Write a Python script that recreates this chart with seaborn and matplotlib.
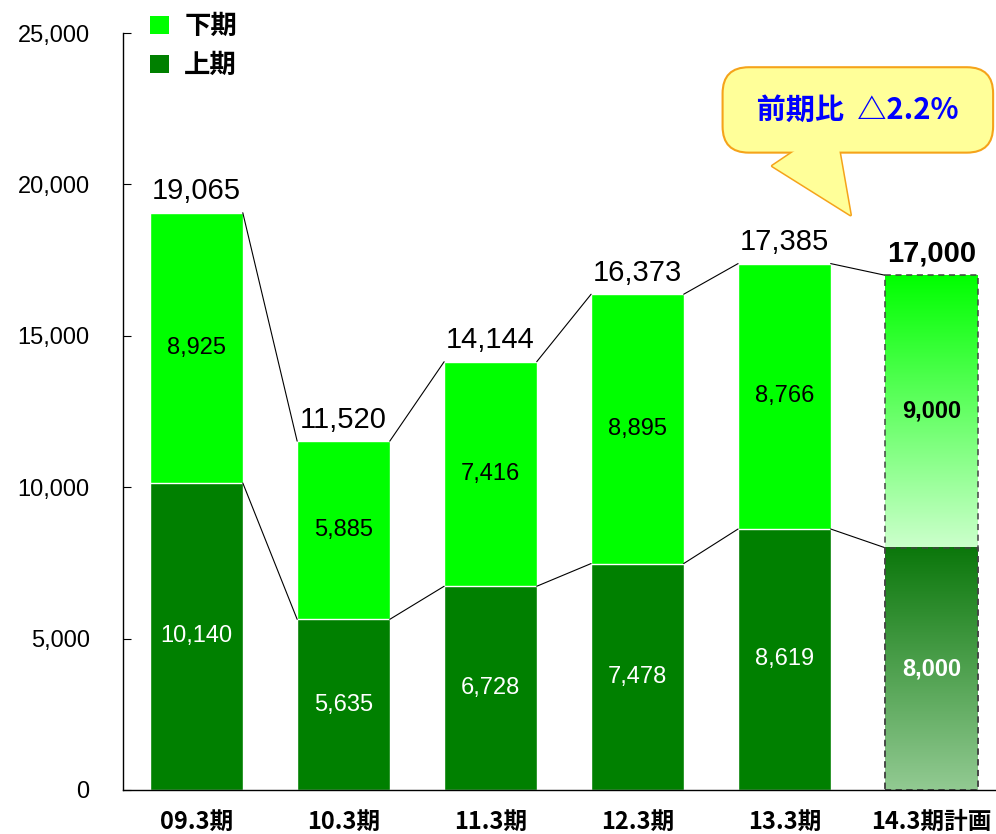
import numpy as np
import pandas as pd
import matplotlib
matplotlib.use('Agg')
import matplotlib.pyplot as plt
from matplotlib.patches import Patch
from matplotlib.colors import LinearSegmentedColormap
from matplotlib.ticker import FuncFormatter
import seaborn as sns

periods = ['09.3期', '10.3期', '11.3期', '12.3期', '13.3期', '14.3期計画']
lower = [10140, 5635, 6728, 7478, 8619, 8000]   # 上期
upper = [8925, 5885, 7416, 8895, 8766, 9000]    # 下期
totals = [19065, 11520, 14144, 16373, 17385, 17000]
callout_text = ' 前期比  △2.2% '

sns.set_style('white')
plt.rcParams['font.family'] = ['Liberation Sans', 'Noto Sans CJK JP', 'DejaVu Sans']
plt.rcParams['text.color'] = 'black'
plt.rcParams['xtick.color'] = 'black'
plt.rcParams['ytick.color'] = 'black'

df = pd.DataFrame({'period': periods, 'lower': lower, 'upper': upper, 'total': totals})

LIME = '#00FF00'
DARK = '#008000'
W = 0.63

fig = plt.figure(figsize=(9.96, 8.34), dpi=100)
ax = fig.add_axes([0.1235, 0.0528, 0.8765, 0.9076])

sns.barplot(data=df, x='period', y='total', color=LIME, saturation=1, width=W,
            edgecolor='white', linewidth=1, ax=ax)
sns.barplot(data=df, x='period', y='lower', color=DARK, saturation=1, width=W,
            edgecolor='white', linewidth=1, ax=ax)

# plan bar: gradient fills with dashed border
n = len(periods)
top_patch = ax.patches[n - 1]
low_patch = ax.patches[2 * n - 1]
cm_top = LinearSegmentedColormap.from_list('t', ['#CCFFCC', '#00FF00'])
cm_low = LinearSegmentedColormap.from_list('l', ['#92CA92', '#0B770B'])
for p, cm in [(top_patch, cm_top), (low_patch, cm_low)]:
    x0, y0, w, h = p.get_x(), p.get_y(), p.get_width(), p.get_height()
    if p is top_patch:
        y0, h = lower[-1], upper[-1]
    grad = np.linspace(0, 1, 256).reshape(-1, 1)
    ax.imshow(grad, extent=[x0, x0 + w, y0, y0 + h], origin='lower', aspect='auto',
              cmap=cm, zorder=p.get_zorder() + 0.1)
    p.set_facecolor('none')
    p.set_edgecolor('#444444')
    p.set_linestyle((0, (4, 3)))
    p.set_linewidth(1.1)
    p.set_zorder(p.get_zorder() + 0.2)

# connector lines between bars
for i in range(n - 1):
    for vals in (totals, lower):
        ax.plot([i + W / 2, i + 1 - W / 2], [vals[i], vals[i + 1]],
                color='black', lw=0.8, zorder=1)

# labels
for i in range(n):
    last = i == n - 1
    ax.text(i, totals[i] + 250, f'{totals[i]:,}', ha='center', va='bottom',
            fontsize=21, fontweight='bold' if last else 'normal', zorder=5)
    ax.text(i, lower[i] + upper[i] / 2, f'{upper[i]:,}', ha='center', va='center',
            fontsize=17, color='black', fontweight='bold' if last else 'normal', zorder=5)
    ax.text(i, lower[i] / 2, f'{lower[i]:,}', ha='center', va='center',
            fontsize=17, color='white', fontweight='bold' if last else 'normal', zorder=5)

ax.set_xlim(-0.5, n - 0.56)
ax.set_ylim(0, 25000)
ax.set_yticks(range(0, 25001, 5000))
ax.yaxis.set_major_formatter(FuncFormatter(lambda v, _: f'{int(v):,}'))
ax.set_xlabel('')
ax.set_ylabel('')
ax.set_xticks(range(n))
ax.set_xticks([i + 0.5 for i in range(n - 1)], minor=True)
ax.set_xticklabels(periods, fontsize=17, fontweight='bold',
                   family=['Noto Sans CJK JP', 'DejaVu Sans'])
ax.tick_params(axis='x', which='major', length=0, pad=14)
ax.tick_params(axis='x', which='minor', direction='in', length=6, width=0.8)
ax.tick_params(axis='y', direction='in', length=6, width=0.8, labelsize=17, pad=24, left=True)
for s in ['top', 'right']:
    ax.spines[s].set_visible(False)
for s in ['left', 'bottom']:
    ax.spines[s].set_color('black')
    ax.spines[s].set_linewidth(1)

handles = [Patch(facecolor=LIME, edgecolor='none'), Patch(facecolor=DARK, edgecolor='none')]
leg = ax.legend(handles, ['下期', '上期'], loc='upper left', bbox_to_anchor=(0.031, 1.026),
                frameon=False, handlelength=0.7, handleheight=0.7, handletextpad=0.6,
                labelspacing=0.45, borderaxespad=0, borderpad=0,
                prop={'family': ['Noto Sans CJK JP'], 'weight': 'bold', 'size': 19})

# speech-bubble callout: tail (with edge) under the box, box, then tail fill over box border
tail_base = (4.13, 21300)
tail_tip = (4.45, 18990)
ax.annotate('', xy=tail_tip, xytext=tail_base, annotation_clip=False, zorder=6,
            arrowprops=dict(arrowstyle='wedge,tail_width=2.7', mutation_scale=20,
                            fc='#FFFF99', ec='#F5A31A', lw=2.2, shrinkA=0, shrinkB=0))
ax.text(4.50, 22460, callout_text, ha='center', va='center', fontsize=21,
        fontweight='bold', color='#0000FF', family=['Noto Sans CJK JP', 'DejaVu Sans'],
        bbox=dict(boxstyle='round,pad=0.95,rounding_size=0.9', fc='#FFFF99',
                  ec='#F5A31A', lw=1.5), zorder=7)
ax.annotate('', xy=tail_tip, xytext=tail_base, annotation_clip=False, zorder=8,
            arrowprops=dict(arrowstyle='wedge,tail_width=2.7', mutation_scale=20,
                            fc='#FFFF99', ec='none', lw=0, shrinkA=0, shrinkB=0))

fig.savefig('out.png', dpi=100)
